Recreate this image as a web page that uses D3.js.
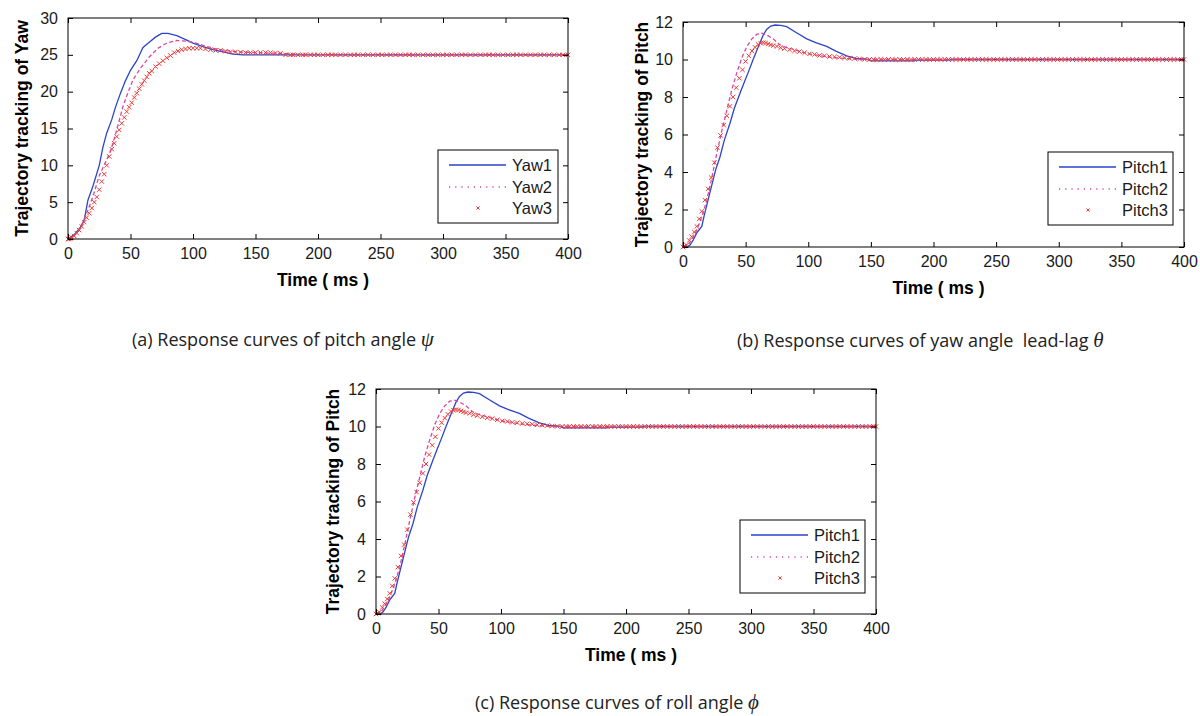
<!DOCTYPE html>
<html>
<head>
<meta charset="utf-8">
<script src="https://cdnjs.cloudflare.com/ajax/libs/d3/7.8.5/d3.min.js"></script>
<style>
  body { margin: 0; background: #fff; }
  svg { display: block; }
</style>
</head>
<body>
<script>
// ---- data ----
var timeTicks = [0, 50, 100, 150, 200, 250, 300, 350, 400];
var yawTicks = [0, 5, 10, 15, 20, 25, 30];
var pitchTicks = [0, 2, 4, 6, 8, 10, 12];

var yawNames = ["Yaw1", "Yaw2", "Yaw3"];
var pitchNames = ["Pitch1", "Pitch2", "Pitch3"];

// [time (ms), value]
var yaw1 = [[0,0],[5,0.6],[10,1.6],[13,2.6],[16,5.3],[20,7.2],[25,10.0],[28,12.5],[31,14.4],[35,16.2],[38,17.9],
  [42,19.8],[46,21.5],[50,22.9],[55,24.2],[60,26.0],[65,26.7],[70,27.4],[75,27.9],[80,27.9],[87,27.6],[95,27.0],
  [100,26.6],[108,26.1],[116,25.7],[124,25.4],[132,25.1],[140,25.0],[400,25.0]];

var yaw2 = [[0,0],[5,0.5],[10,1.5],[15,3.5],[20,5.8],[25,8.6],[30,10.4],[34,11.9],[38,14.2],[44,18.0],[48,19.9],
  [52,21.6],[58,23.2],[65,24.7],[72,25.9],[79,26.6],[87,26.95],[95,26.85],[100,26.7],[108,26.3],[116,25.9],
  [125,25.6],[135,25.4],[150,25.3],[170,25.2],[190,25.05],[220,25.0],[400,25.0]];

var yaw3 = [[0,0],[1,0],[2,0.1],[3,0.2],[5,0.4],[7,0.8],[9,1.2],[11,1.7],[13,2.3],[15,2.9],[17,3.5],[19,4.2],
  [21,5.0],[23,5.7],[25,6.7],[27,7.8],[29,8.8],[31,10.0],[33,11.2],[35,12.2],[37,13.0],[39,13.9],[41,14.8],
  [43,15.7],[45,16.5],[47,17.3],[49,17.9],[51,18.5],[53,19.2],[55,19.8],[57,20.4],[59,21.0],[61,21.5],[63,22.0],
  [65,22.5],[67,22.8],[70,23.4],[73,23.8],[76,24.2],[79,24.6],[82,24.9],[85,25.3],[88,25.5],[91,25.7],[94,25.8],
  [97,25.9],[100,25.9],[103,25.9],[106,25.9],[110,25.8],[114,25.7],[118,25.6],[122,25.6],[126,25.5],[130,25.4],
  [134,25.4],[138,25.35],[142,25.3],[146,25.3],[150,25.3],[154,25.3],[158,25.3],[162,25.3],[166,25.25],[170,25.2],
  [174,25],[178,25],[180,25],[184,25],[188,25],[190,25],[194,25],[197,25],[200,25],[204,25],[208,25],[211,25],
  [214,25],[218,25],[222,25],[226,25],[229,25],[232,25],[236,25],[240,25],[244,25],[248,25],[251,25],[255,25],
  [258,25],[262,25],[266,25],[270,25],[273,25],[276,25],[280,25],[284,25],[288,25],[292,25],[296,25],[300,25],
  [303,25],[307,25],[311,25],[315,25],[318,25],[322,25],[326,25],[330,25],[334,25],[337,25],[340,25],[344,25],
  [348,25],[352,25],[356,25],[359,25],[362,25],[366,25],[370,25],[374,25],[378,25],[381,25],[385,25],[389,25],
  [393,25],[396,25],[400,25]];

var pitch1 = [[0,0],[3,0],[5.6,0.1],[8,0.35],[11,0.75],[15,1.1],[17,1.7],[20,2.5],[23,3.3],[26,4.1],[29.5,4.8],
  [33,5.7],[37.5,6.6],[41,7.4],[45.5,8.2],[49,8.8],[52,9.3],[56,10.0],[61.5,10.9],[64,11.3],[66.8,11.6],[70,11.78],
  [73.5,11.84],[78,11.82],[82.8,11.75],[90,11.45],[98.8,11.1],[106,10.9],[114.7,10.7],[122,10.45],[130.7,10.19],
  [138,10.06],[146.7,10.02],[150,9.93],[185,9.93],[186,9.97],[213,9.97],[214,10.0],[400,10.0]];

var pitch2 = [[0,0],[4,0.1],[8,0.5],[11,0.9],[15,1.6],[19,2.5],[23,3.7],[27,5.0],[31,6.2],[35,7.3],[39,8.4],
  [43,9.3],[47,10.1],[51,10.7],[55,11.1],[59,11.35],[63,11.4],[67,11.3],[72,11.1],[77,10.8],[82,10.65],[90,10.5],
  [100,10.3],[110,10.2],[120,10.1],[130,10.05],[140,10.0],[400,10.0]];

var pitch3 = [[0,0],[1.5,0.05],[2.7,0.1],[5,0.35],[7,0.55],[9,0.8],[11,1.1],[13,1.5],[15,1.9],[17.5,2.5],[20,3.1],
  [22.5,3.7],[25,4.5],[27.5,5.3],[30,5.95],[32.5,6.5],[35,7.0],[37.5,7.5],[40,8.0],[42.5,8.5],[45,9.0],[47.5,9.45],
  [50,9.9],[52.5,10.2],[55,10.45],[57.5,10.65],[60,10.8],[62,10.87],[64,10.9],[66,10.88],[68,10.83],[70,10.78],
  [72,10.74],[75,10.7],[78,10.63],[81,10.58],[85,10.52],[89,10.46],[93,10.42],[97,10.36],[101,10.3],[105,10.27],
  [109,10.22],[113,10.2],[117,10.16],[121,10.14],[125,10.12],[129,10.09],[133,10.07],[137,10.05],[141,10.03],
  [145,10.01],[149,10],[152,10],[155,10],[158,10],[161,10],[164,10],[167,10],[170,10],[173,10],[176,10],[179,10],
  [182,10],[185,10],[188,10],[191,10],[194,10],[197,10],[200,10],[203,10],[206,10],[209,10],[212,10],[215,10],
  [218,10],[221,10],[224,10],[227,10],[230,10],[233,10],[236,10],[239,10],[242,10],[245,10],[248,10],[251,10],
  [254,10],[257,10],[260,10],[263,10],[266,10],[269,10],[272,10],[275,10],[278,10],[281,10],[284,10],[287,10],
  [290,10],[293,10],[296,10],[299,10],[302,10],[305,10],[308,10],[311,10],[314,10],[317,10],[320,10],[323,10],
  [326,10],[329,10],[332,10],[335,10],[338,10],[341,10],[344,10],[347,10],[350,10],[353,10],[356,10],[359,10],
  [362,10],[365,10],[368,10],[371,10],[374,10],[377,10],[380,10],[383,10],[386,10],[389,10],[392,10],[395,10],
  [398,10],[400,10]];

var captions = [
  {label: "(a) Response curves of pitch angle ", sym: "\u03C8", x: 132, y: 346},
  {label: "(b) Response curves of yaw angle  lead-lag ", sym: "\u03B8", x: 737, y: 347},
  {label: "(c) Response curves of roll angle ", sym: "\u03D5", x: 475, y: 709}
];

// ---- drawing ----
var W = 1200, H = 716;
var BLUE = "#2a45c8", MAGENTA = "#d9479f", RED = "#ec3a35";
var tickFont = "'Liberation Sans', Arial, sans-serif";

var svg = d3.select("body").append("svg")
    .attr("width", W)
    .attr("height", H);

var xMark = "M-2.2,-2.2L2.2,2.2M-2.2,2.2L2.2,-2.2";

function drawPanel(p) {
    var x = d3.scaleLinear().domain([0, 400]).range([p.left, p.right]);
    var y = d3.scaleLinear().domain([p.yTicks[0], p.yTicks[p.yTicks.length - 1]]).range([p.bottom, p.top]);
    var g = svg.append("g");

    var line = d3.line()
        .x(function(d) { return x(d[0]); })
        .y(function(d) { return y(d[1]); });

    g.append("path")
        .attr("d", line(p.series[0]))
        .attr("fill", "none")
        .attr("stroke", BLUE)
        .attr("stroke-width", 1.3);

    g.append("path")
        .attr("d", line(p.series[1]))
        .attr("fill", "none")
        .attr("stroke", MAGENTA)
        .attr("stroke-width", 1.3)
        .attr("stroke-dasharray", "4,2.5");

    g.selectAll(".mk")
        .data(p.series[2])
        .enter()
        .append("path")
        .attr("class", "mk")
        .attr("transform", function(d) { return "translate(" + x(d[0]) + "," + y(d[1]) + ")"; })
        .attr("d", xMark)
        .attr("stroke", RED)
        .attr("stroke-width", 1);

    // axes, MATLAB style: ticks inward on all four sides
    var axBottom = d3.axisBottom(x).tickValues(timeTicks).tickSizeInner(-5).tickSizeOuter(0).tickPadding(9);
    var axTop = d3.axisTop(x).tickValues(timeTicks).tickSizeInner(-5).tickSizeOuter(0).tickFormat("");
    var axLeft = d3.axisLeft(y).tickValues(p.yTicks).tickSizeInner(-5).tickSizeOuter(0).tickPadding(10);
    var axRight = d3.axisRight(y).tickValues(p.yTicks).tickSizeInner(-5).tickSizeOuter(0).tickFormat("");

    [[axBottom, "translate(0," + p.bottom + ")"],
     [axTop, "translate(0," + p.top + ")"],
     [axLeft, "translate(" + p.left + ",0)"],
     [axRight, "translate(" + p.right + ",0)"]].forEach(function(a) {
        var ag = g.append("g").attr("transform", a[1]).call(a[0]);
        ag.select(".domain").remove();
        ag.selectAll(".tick line").attr("stroke", "#000");
        ag.selectAll(".tick text")
          .attr("font-family", tickFont)
          .attr("font-size", 16)
          .attr("fill", "#1a1a1a");
    });

    g.append("rect")
        .attr("x", p.left)
        .attr("y", p.top)
        .attr("width", p.right - p.left)
        .attr("height", p.bottom - p.top)
        .attr("fill", "none")
        .attr("stroke", "#000")
        .attr("stroke-width", 1);

    // axis titles
    g.append("text")
        .attr("x", (p.left + p.right) / 2 + 5)
        .attr("y", p.bottom + 47)
        .attr("text-anchor", "middle")
        .attr("font-family", tickFont)
        .attr("font-weight", "bold")
        .attr("font-size", 17.5)
        .text("Time ( ms )");

    g.append("text")
        .attr("transform", "translate(" + (p.left - p.yLabelOff) + "," + ((p.top + p.bottom) / 2) + ") rotate(-90)")
        .attr("text-anchor", "middle")
        .attr("dominant-baseline", "central")
        .attr("font-family", tickFont)
        .attr("font-weight", "bold")
        .attr("font-size", 17.5)
        .text(p.yLabel);

    // legend
    var lg = g.append("g").attr("transform", "translate(" + p.legX + "," + p.legY + ")");
    lg.append("rect")
        .attr("width", p.legW)
        .attr("height", 73)
        .attr("fill", "#fff")
        .attr("stroke", "#000")
        .attr("stroke-width", 1);

    var rows = [15, 37, 58];
    lg.append("line").attr("x1", 11).attr("x2", 68).attr("y1", rows[0]).attr("y2", rows[0])
      .attr("stroke", BLUE).attr("stroke-width", 1.3);
    lg.append("line").attr("x1", 11).attr("x2", 68).attr("y1", rows[1]).attr("y2", rows[1])
      .attr("stroke", MAGENTA).attr("stroke-width", 1.3).attr("stroke-dasharray", "1.2,5");
    lg.append("path").attr("transform", "translate(40," + rows[2] + ")")
      .attr("d", "M-1.6,-1.6L1.6,1.6M-1.6,1.6L1.6,-1.6").attr("stroke", RED).attr("stroke-width", 1);

    lg.selectAll(".lt")
        .data(p.names)
        .enter()
        .append("text")
        .attr("class", "lt")
        .attr("x", 74)
        .attr("y", function(d, i) { return rows[i]; })
        .attr("dy", "0.35em")
        .attr("font-family", tickFont)
        .attr("font-size", 16.5)
        .attr("fill", "#1a1a1a")
        .text(function(d) { return d; });
}

drawPanel({left: 68, right: 568, top: 18, bottom: 239, yTicks: yawTicks, yLabel: "Trajectory tracking of Yaw",
           yLabelOff: 46, series: [yaw1, yaw2, yaw3], names: yawNames, legX: 438, legY: 150, legW: 120});
drawPanel({left: 683, right: 1184, top: 22, bottom: 247, yTicks: pitchTicks, yLabel: "Trajectory tracking of Pitch",
           yLabelOff: 41, series: [pitch1, pitch2, pitch3], names: pitchNames, legX: 1048, legY: 152, legW: 125});
drawPanel({left: 376, right: 876, top: 389, bottom: 614, yTicks: pitchTicks, yLabel: "Trajectory tracking of Pitch",
           yLabelOff: 43, series: [pitch1, pitch2, pitch3], names: pitchNames, legX: 740, legY: 520, legW: 125});

// captions
captions.forEach(function(c) {
    var t = svg.append("text")
        .attr("x", c.x)
        .attr("y", c.y)
        .attr("font-family", "'Open Sans', 'Noto Sans', sans-serif")
        .attr("font-size", 18)
        .attr("fill", "#222")
        .style("white-space", "pre");
    t.append("tspan").text(c.label);
    t.append("tspan")
        .attr("font-family", "'Liberation Serif', 'DejaVu Serif', serif")
        .attr("font-style", "italic")
        .attr("font-size", 21)
        .text(c.sym);
});
</script>
</body>
</html>
